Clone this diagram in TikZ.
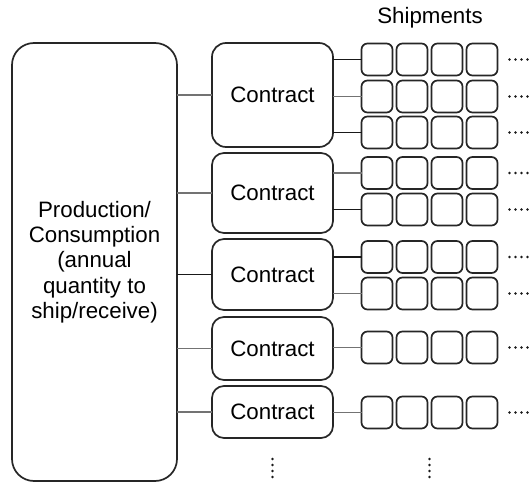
\documentclass[tikz,border=0pt]{standalone}
\usepackage{fontspec}
\setmainfont{Liberation Sans}
\begin{document}
\begin{tikzpicture}[x=1pt,y=-1pt,
  font=\fontsize{22.3}{25.3}\selectfont,
  box/.style={draw=black!85, line width=1.7pt, rectangle, inner sep=0pt, outer sep=0pt},
  pcbox/.style={box, rounded corners=22pt, minimum width=165pt, minimum height=438pt, align=center},
  cbox/.style={box, rounded corners=12pt, minimum width=121pt},
  sbox/.style={box, rounded corners=6pt, minimum width=31pt, minimum height=32pt},
  link/.style={draw=black!90, line width=1.2pt},
  softlink/.style={draw=black!55, line width=1.7pt},
  dot/.style={fill=black!90}
]
\useasboundingbox (0,0) rectangle (531,482);

% production / consumption block
\node[pcbox] (pc) at (94.5,262) {Production/\\Consumption\\(annual\\quantity to\\ship/receive)};

% contracts
\node[cbox, minimum height=104pt, rounded corners=14pt] (c1) at (272.5,95) {Contract};
\node[cbox, minimum height=80pt] (c2) at (272.5,193) {Contract};
\node[cbox, minimum height=71pt] (c3) at (272.5,274.5) {Contract};
\node[cbox, minimum height=63pt] (c4) at (272.5,348.5) {Contract};
\node[cbox, minimum height=52pt] (c5) at (272.5,412) {Contract};

% title
\node (title) at (430,18) {Shipments};

% shipment grid: one row of four boxes per row index
\foreach \r/\y in {1/59.5,2/96.5,3/132.5,4/173,5/209.5,6/257,7/293.5,8/347.5,9/412.5}{
  \foreach \c/\x in {1/377,2/412,3/447,4/482}{
    \node[sbox] (s\r-\c) at (\x,\y) {};
  }
  \foreach \dx in {0,6,12,18}{
    \fill[dot] ([xshift=12pt+\dx pt]s\r-4.east) circle (1.4pt);
  }
}

% production block to contracts
\draw[softlink] (pc.east |- c1) -- (c1.west);
\draw[softlink] (pc.east |- c2) -- (c2.west);
\draw[link] (pc.east |- c3) -- (c3.west);
\draw[softlink] (pc.east |- c4) -- (c4.west);
\draw[softlink] (pc.east |- c5) -- (c5.west);

% contracts to shipment rows
\draw[link] (c1.east |- s1-1) -- (s1-1.west);
\draw[softlink] (c1.east |- s2-1) -- (s2-1.west);
\draw[link] (c1.east |- s3-1) -- (s3-1.west);
\draw[softlink] (c2.east |- s4-1) -- (s4-1.west);
\draw[link] (c2.east |- s5-1) -- (s5-1.west);
\draw[link] (c3.east |- s6-1) -- (s6-1.west);
\draw[softlink] (c3.east |- s7-1) -- (s7-1.west);
\draw[softlink] (c4.east |- s8-1) -- (s8-1.west);
\draw[softlink] (c5.east |- s9-1) -- (s9-1.west);

% continuation marks below the columns
\coordinate (more-c) at (c5.south |- 0,459);
\coordinate (more-s) at (429.5,459);
\foreach \dy in {0,6,12,18}{
  \fill[dot] ([yshift=-\dy pt]more-c) circle (1.4pt);
  \fill[dot] ([yshift=-\dy pt]more-s) circle (1.4pt);
}
\end{tikzpicture}
\end{document}
